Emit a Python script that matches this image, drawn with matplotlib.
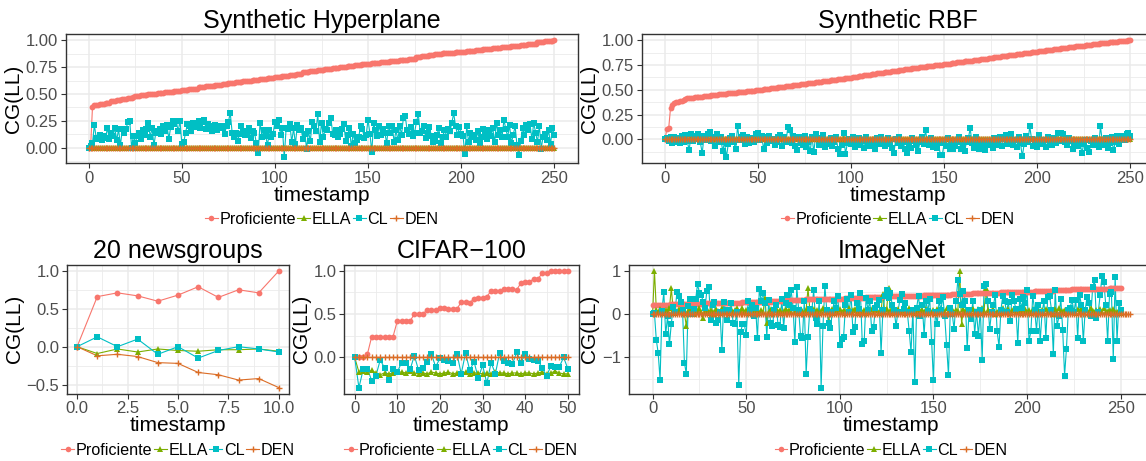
"""
Continual-learning gain CG(LL) per timestamp for five benchmarks (ggplot-like look).

Output:
    out.png
"""

import matplotlib

matplotlib.use("Agg")
import matplotlib.pyplot as plt
import numpy as np
from matplotlib.lines import Line2D
from matplotlib.ticker import AutoMinorLocator, FixedLocator, FuncFormatter

plt.rcParams["font.family"] = ["Liberation Sans", "DejaVu Sans"]

FIG_W, FIG_H = 1146, 461

METHODS = ["Proficiente", "ELLA", "CL", "DEN"]
COLORS = {"Proficiente": "#F8766D", "ELLA": "#7CAE00", "CL": "#00BFC4", "DEN": "#DB6D26"}
MARKERS = {"Proficiente": "o", "ELLA": "^", "CL": "s", "DEN": "+"}

# ---------------- Synthetic Hyperplane (t = 0..250) ----------------
HYPER_PROF = [
    0.00, 0.01, 0.38, 0.40, 0.40, 0.40, 0.41, 0.41, 0.41, 0.42, 0.42, 0.42, 0.43, 0.43, 0.43, 0.44, 0.44, 0.44, 0.45, 0.45, 0.45, 0.46, 0.46, 0.46, 0.47,
    0.48, 0.48, 0.48, 0.49, 0.49, 0.49, 0.49, 0.50, 0.50, 0.50, 0.50, 0.50, 0.51, 0.51, 0.51, 0.51, 0.52, 0.52, 0.52, 0.52, 0.52, 0.53, 0.53, 0.53, 0.53,
    0.54, 0.54, 0.54, 0.54, 0.55, 0.55, 0.55, 0.55, 0.55, 0.56, 0.56, 0.56, 0.56, 0.57, 0.57, 0.57, 0.57, 0.57, 0.58, 0.58, 0.58, 0.58, 0.59, 0.59, 0.59,
    0.60, 0.60, 0.60, 0.60, 0.61, 0.61, 0.61, 0.61, 0.62, 0.62, 0.62, 0.62, 0.62, 0.63, 0.63, 0.63, 0.63, 0.64, 0.64, 0.64, 0.64, 0.65, 0.65, 0.65, 0.65,
    0.66, 0.66, 0.66, 0.66, 0.67, 0.67, 0.67, 0.67, 0.68, 0.68, 0.68, 0.68, 0.69, 0.69, 0.69, 0.70, 0.70, 0.70, 0.70, 0.71, 0.71, 0.71, 0.71, 0.72, 0.72,
    0.72, 0.72, 0.73, 0.73, 0.73, 0.73, 0.74, 0.74, 0.74, 0.74, 0.75, 0.75, 0.75, 0.75, 0.76, 0.76, 0.76, 0.76, 0.77, 0.77, 0.77, 0.77, 0.78, 0.78, 0.78,
    0.78, 0.78, 0.79, 0.79, 0.79, 0.79, 0.79, 0.80, 0.80, 0.80, 0.80, 0.80, 0.81, 0.81, 0.81, 0.81, 0.81, 0.82, 0.82, 0.82, 0.82, 0.82, 0.83, 0.83, 0.83,
    0.83, 0.84, 0.84, 0.84, 0.85, 0.85, 0.85, 0.85, 0.86, 0.86, 0.86, 0.87, 0.87, 0.87, 0.87, 0.88, 0.88, 0.88, 0.88, 0.88, 0.88, 0.88, 0.89, 0.89, 0.89,
    0.89, 0.89, 0.89, 0.90, 0.90, 0.90, 0.90, 0.90, 0.91, 0.91, 0.91, 0.91, 0.92, 0.92, 0.92, 0.92, 0.92, 0.93, 0.93, 0.93, 0.93, 0.93, 0.94, 0.94, 0.94,
    0.94, 0.94, 0.95, 0.95, 0.95, 0.95, 0.95, 0.96, 0.96, 0.96, 0.96, 0.97, 0.97, 0.97, 0.97, 0.97, 0.98, 0.98, 0.98, 0.98, 0.99, 0.99, 0.99, 0.99, 0.99,
    1.00,
]
HYPER_CL = [
    0.00, 0.01, 0.04, 0.21, 0.09, 0.08, 0.12, 0.07, 0.11, 0.09, 0.18, 0.08, 0.14, 0.11, 0.18, 0.07, 0.17, 0.02, 0.17, 0.14, 0.17, 0.24, 0.25, 0.00, 0.11,
    0.04, 0.11, 0.14, 0.08, 0.16, 0.12, 0.17, 0.23, 0.10, 0.18, 0.02, 0.14, 0.15, 0.17, 0.13, 0.20, 0.15, 0.21, 0.08, 0.19, 0.25, 0.22, 0.25, 0.15, 0.25,
    0.03, 0.05, 0.14, 0.22, 0.20, 0.15, 0.23, 0.19, 0.20, 0.25, 0.18, 0.24, 0.26, 0.17, 0.22, 0.20, 0.15, 0.20, 0.21, 0.16, 0.20, 0.20, 0.18, 0.13, 0.20,
    0.24, 0.32, 0.14, 0.10, 0.14, 0.06, 0.13, 0.20, 0.15, 0.12, 0.13, 0.18, 0.09, 0.15, 0.14, 0.04, -0.05, 0.23, 0.10, 0.16, 0.11, 0.02, 0.16, 0.10, 0.13,
    0.24, 0.20, 0.26, 0.12, 0.18, -0.09, 0.18, 0.17, 0.22, 0.05, 0.18, 0.03, 0.21, 0.16, 0.18, 0.08, 0.13, -0.01, 0.15, 0.06, 0.24, 0.20, 0.15, 0.31, 0.05,
    0.23, 0.10, 0.17, 0.16, 0.23, 0.28, 0.13, 0.12, 0.16, 0.10, 0.13, 0.17, 0.22, 0.06, 0.12, 0.18, 0.01, 0.13, 0.04, 0.07, 0.10, 0.20, 0.17, 0.09, 0.12,
    0.26, 0.13, -0.04, 0.23, 0.16, 0.11, 0.20, 0.12, 0.17, 0.14, 0.04, 0.20, 0.14, 0.20, 0.05, 0.16, 0.07, 0.20, 0.12, 0.28, 0.29, 0.16, 0.13, 0.19, 0.11,
    0.14, 0.24, 0.31, 0.14, 0.15, 0.20, 0.09, 0.14, 0.19, 0.11, 0.05, 0.06, 0.12, 0.18, 0.04, 0.10, 0.16, 0.10, 0.17, 0.15, 0.23, 0.32, 0.20, 0.12, 0.19,
    0.13, 0.11, -0.06, 0.20, 0.05, 0.14, 0.10, 0.12, 0.07, 0.15, 0.04, 0.10, 0.17, 0.14, 0.08, 0.16, 0.11, 0.18, 0.05, 0.23, 0.12, 0.16, 0.10, 0.26, 0.17,
    0.10, 0.21, 0.04, 0.12, 0.20, 0.02, -0.07, 0.06, 0.18, 0.12, 0.21, 0.16, 0.22, 0.08, 0.23, 0.14, 0.05, 0.20, -0.01, 0.10, 0.13, 0.07, 0.16, 0.03, 0.18,
    0.12,
]
HYPER_ELLA = [0.0] * 251
HYPER_DEN = [0.0] * 251

# ---------------- Synthetic RBF (t = 0..250) ----------------
RBF_PROF = [
    0.00, 0.10, 0.11, 0.32, 0.35, 0.37, 0.38, 0.38, 0.39, 0.39, 0.40, 0.41, 0.42, 0.42, 0.42, 0.42, 0.43, 0.43, 0.43, 0.43, 0.43, 0.44, 0.44, 0.44, 0.44,
    0.45, 0.45, 0.45, 0.45, 0.46, 0.46, 0.46, 0.46, 0.46, 0.47, 0.47, 0.47, 0.47, 0.47, 0.48, 0.48, 0.48, 0.48, 0.48, 0.49, 0.49, 0.49, 0.49, 0.49, 0.50,
    0.50, 0.50, 0.50, 0.51, 0.51, 0.51, 0.51, 0.52, 0.52, 0.52, 0.52, 0.53, 0.53, 0.53, 0.53, 0.54, 0.54, 0.54, 0.54, 0.55, 0.55, 0.55, 0.55, 0.56, 0.56,
    0.56, 0.56, 0.57, 0.57, 0.57, 0.57, 0.58, 0.58, 0.58, 0.58, 0.59, 0.59, 0.59, 0.59, 0.60, 0.60, 0.60, 0.60, 0.61, 0.61, 0.61, 0.61, 0.62, 0.62, 0.62,
    0.62, 0.63, 0.63, 0.63, 0.64, 0.64, 0.64, 0.65, 0.65, 0.65, 0.65, 0.66, 0.66, 0.66, 0.67, 0.67, 0.67, 0.67, 0.68, 0.68, 0.68, 0.68, 0.69, 0.69, 0.69,
    0.69, 0.70, 0.70, 0.70, 0.71, 0.71, 0.71, 0.71, 0.72, 0.72, 0.72, 0.72, 0.73, 0.73, 0.73, 0.73, 0.74, 0.74, 0.74, 0.74, 0.75, 0.75, 0.75, 0.75, 0.75,
    0.76, 0.76, 0.76, 0.76, 0.77, 0.77, 0.77, 0.78, 0.78, 0.78, 0.78, 0.79, 0.79, 0.79, 0.79, 0.79, 0.80, 0.80, 0.80, 0.80, 0.81, 0.81, 0.81, 0.81, 0.82,
    0.82, 0.82, 0.83, 0.83, 0.83, 0.83, 0.84, 0.84, 0.84, 0.84, 0.85, 0.85, 0.85, 0.85, 0.86, 0.86, 0.86, 0.86, 0.87, 0.87, 0.87, 0.87, 0.88, 0.88, 0.88,
    0.88, 0.89, 0.89, 0.89, 0.89, 0.90, 0.90, 0.90, 0.90, 0.91, 0.91, 0.91, 0.91, 0.92, 0.92, 0.92, 0.92, 0.93, 0.93, 0.93, 0.93, 0.94, 0.94, 0.94, 0.94,
    0.94, 0.95, 0.95, 0.95, 0.95, 0.96, 0.96, 0.96, 0.96, 0.97, 0.97, 0.97, 0.97, 0.97, 0.98, 0.98, 0.98, 0.98, 0.98, 0.99, 0.99, 0.99, 0.99, 0.99, 1.00,
    1.00,
]
RBF_CL = [
    0.00, 0.01, -0.02, 0.02, -0.04, 0.02, -0.03, 0.01, -0.04, 0.03, -0.03, 0.04, -0.02, -0.11, 0.05, -0.02, 0.03, 0.00, 0.05, -0.03, -0.14, 0.03, -0.01, 0.05, 0.07,
    -0.02, 0.02, -0.07, 0.05, -0.03, 0.02, -0.12, -0.03, -0.18, -0.05, 0.01, 0.03, -0.03, -0.10, 0.13, -0.01, 0.02, 0.04, -0.05, 0.02, -0.04, 0.01, 0.00, -0.03, 0.05,
    0.06, -0.01, 0.03, -0.10, 0.02, -0.04, 0.03, -0.02, 0.00, -0.06, -0.03, 0.02, 0.04, -0.07, 0.02, -0.03, 0.12, 0.09, -0.04, 0.03, -0.07, -0.11, 0.02, -0.04, -0.06,
    0.03, -0.08, -0.03, -0.12, 0.02, -0.13, 0.05, 0.01, -0.06, -0.03, 0.04, -0.08, -0.02, -0.05, 0.01, -0.07, -0.03, 0.02, -0.10, -0.15, -0.06, 0.06, -0.15, -0.04, 0.00,
    -0.05, 0.02, -0.08, -0.03, 0.01, -0.06, -0.02, -0.09, 0.02, -0.04, -0.07, -0.02, -0.04, -0.10, 0.01, -0.05, 0.02, -0.03, -0.07, -0.02, 0.01, -0.05, -0.09, -0.14, 0.00,
    -0.04, 0.02, -0.07, -0.03, -0.10, -0.14, -0.04, -0.09, 0.01, -0.02, -0.06, -0.12, -0.03, 0.02, -0.05, 0.09, -0.03, -0.06, 0.01, -0.08, -0.04, -0.09, -0.04, -0.16, -0.16,
    -0.04, -0.07, 0.01, -0.10, -0.05, -0.10, -0.07, -0.03, 0.02, -0.10, -0.06, -0.12, -0.03, 0.01, 0.11, -0.04, -0.09, 0.02, -0.05, -0.10, -0.08, -0.03, -0.11, -0.06, -0.02,
    -0.05, -0.09, 0.01, -0.06, -0.03, 0.02, -0.07, 0.00, 0.04, -0.05, -0.02, 0.05, -0.06, -0.01, -0.08, 0.02, -0.04, -0.17, -0.05, 0.03, -0.03, 0.13, 0.00, -0.07, -0.03,
    -0.08, 0.04, -0.02, -0.05, -0.01, -0.08, 0.02, -0.03, -0.06, 0.01, -0.04, 0.06, -0.02, 0.06, 0.05, -0.03, -0.06, 0.01, -0.02, -0.10, -0.04, -0.02, -0.07, -0.02, -0.14,
    -0.05, -0.01, -0.09, -0.13, -0.02, -0.06, 0.01, -0.03, -0.08, 0.13, -0.02, -0.06, 0.01, -0.09, -0.04, 0.02, -0.11, -0.03, 0.03, -0.05, 0.02, 0.03, -0.01, 0.05, 0.06,
    0.03,
]
RBF_ELLA = [0.0] * 251
RBF_DEN = [0.0] * 251

# ---------------- 20 newsgroups (t = 0..10) ----------------
NEWS_PROF = [0.00, 0.66, 0.71, 0.67, 0.60, 0.68, 0.79, 0.65, 0.75, 0.71, 1.00]
NEWS_ELLA = [0.00, -0.09, -0.03, -0.07, -0.03, -0.05, -0.06, -0.04, -0.04, -0.03, -0.06]
NEWS_CL = [0.00, 0.13, 0.00, 0.10, -0.10, 0.00, -0.15, -0.05, 0.00, -0.03, -0.07]
NEWS_DEN = [0.00, -0.12, -0.10, -0.13, -0.21, -0.22, -0.34, -0.37, -0.44, -0.42, -0.54]

# ---------------- CIFAR-100 (t = 0..50) ----------------
CIFAR_PROF = [
    0.00, 0.01, 0.01, 0.04, 0.24, 0.24, 0.24, 0.24, 0.24, 0.24, 0.42, 0.42, 0.42, 0.42, 0.50, 0.50, 0.50,
    0.55, 0.55, 0.55, 0.57, 0.57, 0.56, 0.56, 0.56, 0.64, 0.64, 0.63, 0.68, 0.69, 0.69, 0.70, 0.77, 0.77,
    0.77, 0.79, 0.79, 0.79, 0.78, 0.86, 0.87, 0.87, 0.91, 0.91, 0.97, 0.97, 1.00, 1.00, 1.00, 1.00, 1.00,
]
CIFAR_ELLA = [
    0.00, -0.17, -0.16, -0.17, -0.15, -0.18, -0.20, -0.18, -0.19, -0.18, -0.17, -0.17, -0.18, -0.16, -0.18, -0.19, -0.18,
    -0.19, -0.17, -0.18, -0.19, -0.18, -0.17, -0.19, -0.18, -0.18, -0.17, -0.19, -0.18, -0.18, -0.19, -0.18, -0.19, -0.17,
    -0.18, -0.18, -0.19, -0.18, -0.18, -0.19, -0.18, -0.18, -0.19, -0.18, -0.17, -0.19, -0.18, -0.16, -0.18, -0.19, -0.19,
]
CIFAR_CL = [
    0.00, -0.35, -0.14, -0.13, -0.27, -0.21, -0.03, -0.12, -0.26, -0.14, -0.17, -0.06, -0.06, -0.14, 0.02, -0.15, -0.12,
    -0.05, 0.04, -0.11, -0.01, -0.03, -0.04, -0.06, 0.04, -0.19, 0.05, -0.15, -0.05, -0.24, -0.09, -0.30, -0.06, -0.19,
    0.05, -0.04, -0.07, -0.08, 0.06, -0.06, 0.04, -0.02, -0.03, -0.04, -0.12, -0.22, -0.10, -0.11, -0.11, 0.00, -0.13,
]
CIFAR_DEN = [0.0] * 51

# ---------------- ImageNet (t = 0..250, DEN runs a little longer) ----------------
IMNET_PROF = [
    0.21, 0.21, 0.22, 0.22, 0.22, 0.22, 0.22, 0.22, 0.22, 0.22, 0.23, 0.23, 0.23, 0.23, 0.23, 0.23, 0.23, 0.23, 0.23, 0.24, 0.24, 0.24, 0.24, 0.24, 0.24,
    0.24, 0.24, 0.24, 0.25, 0.25, 0.25, 0.25, 0.25, 0.25, 0.25, 0.25, 0.25, 0.26, 0.26, 0.26, 0.26, 0.26, 0.26, 0.26, 0.26, 0.26, 0.26, 0.26, 0.27, 0.27,
    0.27, 0.27, 0.27, 0.27, 0.27, 0.27, 0.27, 0.27, 0.28, 0.28, 0.28, 0.28, 0.28, 0.29, 0.30, 0.30, 0.30, 0.31, 0.31, 0.31, 0.31, 0.32, 0.32, 0.32, 0.32,
    0.32, 0.33, 0.33, 0.33, 0.33, 0.33, 0.33, 0.34, 0.34, 0.34, 0.34, 0.34, 0.34, 0.34, 0.35, 0.35, 0.35, 0.35, 0.35, 0.35, 0.35, 0.35, 0.36, 0.36, 0.36,
    0.36, 0.36, 0.36, 0.37, 0.37, 0.37, 0.37, 0.37, 0.37, 0.38, 0.38, 0.38, 0.38, 0.38, 0.39, 0.39, 0.39, 0.39, 0.40, 0.40, 0.40, 0.40, 0.40, 0.41, 0.41,
    0.41, 0.41, 0.41, 0.41, 0.41, 0.42, 0.42, 0.42, 0.42, 0.42, 0.42, 0.42, 0.43, 0.43, 0.43, 0.43, 0.43, 0.43, 0.43, 0.43, 0.44, 0.44, 0.44, 0.44, 0.44,
    0.44, 0.44, 0.44, 0.45, 0.45, 0.45, 0.45, 0.45, 0.45, 0.45, 0.46, 0.46, 0.46, 0.47, 0.47, 0.47, 0.47, 0.47, 0.47, 0.47, 0.47, 0.48, 0.48, 0.48, 0.48,
    0.48, 0.48, 0.48, 0.48, 0.48, 0.49, 0.49, 0.49, 0.49, 0.49, 0.49, 0.50, 0.50, 0.50, 0.50, 0.50, 0.51, 0.51, 0.51, 0.51, 0.51, 0.51, 0.52, 0.52, 0.52,
    0.52, 0.52, 0.52, 0.52, 0.53, 0.53, 0.53, 0.53, 0.53, 0.53, 0.54, 0.54, 0.54, 0.54, 0.54, 0.55, 0.55, 0.55, 0.55, 0.56, 0.56, 0.56, 0.56, 0.56, 0.57,
    0.57, 0.57, 0.57, 0.57, 0.57, 0.58, 0.58, 0.58, 0.58, 0.58, 0.58, 0.58, 0.59, 0.59, 0.59, 0.59, 0.59, 0.59, 0.59, 0.60, 0.60, 0.60, 0.60, 0.60, 0.60,
    0.60,
]
IMNET_ELLA = [
    0.00, 1.00, 0.10, 0.05, 0.12, 0.08, 0.02, 0.10, 0.05, 0.13, 0.60, 0.10, 0.03, 0.08, 0.12, 0.05, 0.10, 0.02, -0.27, 0.08, 0.12, 0.05, 0.00, 0.10, 0.07,
    0.13, 0.04, -0.10, 0.08, 0.12, 0.02, 0.10, 0.06, 0.00, 0.12, 0.08, 0.03, 0.14, 0.05, 0.10, 0.07, 0.02, 0.12, 0.06, 0.10, 0.15, 0.04, 0.08, 0.13, 0.05,
    0.10, 0.02, 0.12, 0.07, 0.04, 0.15, 0.08, 0.02, 0.10, 0.05, 0.38, -0.20, 0.06, 0.12, 0.03, 0.09, 0.14, 0.05, 0.10, 0.02, 0.08, 0.12, 0.04, 0.10, 0.06,
    0.15, 0.05, 0.10, 0.03, 0.12, 0.07, 0.02, 0.10, 0.60, 0.08, 0.04, 0.12, 0.06, 0.10, 0.02, 0.08, 0.13, 0.10, 0.05, -0.15, 0.08, 0.11, 0.03, 0.09, 0.05,
    0.12, 0.06, 0.10, 0.02, 0.08, 0.13, 0.04, 0.09, 0.11, 0.03, 0.07, 0.12, 0.05, 0.10, 0.02, 0.08, 0.06, 0.12, 0.04, 0.09, 0.10, 0.03, 0.08, 0.47, 0.05,
    0.12, 0.60, 0.07, 0.02, 0.10, 0.05, 0.12, 0.04, 0.09, 0.11, 0.03, 0.08, 0.13, 0.05, 0.10, 0.02, 0.07, 0.12, 0.04, 0.09, 0.06, 0.11, 0.03, 0.08, 0.05,
    0.10, 0.02, 0.12, 0.07, 0.04, 0.10, 0.06, 0.13, 0.03, 0.08, 0.11, 0.05, 0.09, 0.07, 1.00, -0.22, 0.12, 0.04, 0.10, 0.06, 0.02, 0.11, 0.08, 0.05, 0.12,
    0.03, 0.15, 0.07, 0.60, 0.10, 0.04, 0.08, 0.12, 0.00, 0.06, 0.10, 0.03, 0.13, 0.07, 0.05, 0.11, 0.02, 0.09, 0.12, 0.04, 0.08, 0.10, 0.03, 0.07, 0.12,
    0.05, 0.09, 0.02, 0.11, 0.06, 0.13, 0.04, 0.08, 0.10, 0.03, 0.12, 0.07, 0.05, 0.09, 0.01, 0.11, 0.06, 0.14, 0.04, 0.08, 0.10, 0.02, 0.12, 0.07, 0.05,
    0.08, 0.03, 0.11, 0.06, 0.12, 0.04, 0.09, 0.10, 0.02, 0.13, 0.07, 0.05, 0.10, 0.03, 0.11, 0.06, 0.14, 0.04, 0.08, 0.09, 0.02, 0.12, 0.06, 0.05, 0.10,
    0.03,
]
IMNET_CL = [
    0.00, 0.02, -0.60, -0.90, -1.52, 0.08, 0.51, -0.47, -0.05, -0.70, -0.22, 0.17, 0.05, 0.51, 0.43, 0.28, 0.10, -1.12, -1.38, 0.19, 0.35, 0.00, 0.12, 0.34, 0.69,
    0.49, 0.44, 0.29, 0.15, 0.54, 0.63, -0.13, 0.20, 0.29, -0.20, -0.13, 0.05, -0.84, 0.29, 0.10, -0.14, 0.10, 0.25, -0.20, -0.24, 0.05, -1.63, -0.42, -0.24, -0.24,
    -0.49, 0.31, 0.10, 0.22, -0.05, 0.15, -0.56, 0.58, 0.30, 0.49, 0.25, -0.52, 0.32, -0.20, -0.28, 0.10, 0.22, -0.25, -0.30, 0.35, -0.31, 0.25, 0.45, 0.20, 0.55,
    0.15, -0.65, 0.62, 0.10, -0.50, -0.56, 0.30, -1.38, -0.52, 0.12, 0.05, 0.55, -0.10, -0.22, 0.30, -1.70, -0.27, 0.65, 0.10, -0.20, -0.32, 0.05, 0.30, 0.15, 0.42,
    -0.72, -0.57, -0.52, 0.20, 0.35, 0.05, 0.45, -0.42, -0.30, 0.25, 0.12, 0.48, -0.70, -0.63, 0.38, 0.10, 0.30, -0.38, -0.30, 0.15, 0.22, 0.32, -0.90, 0.10, 0.42,
    0.55, 0.38, 0.48, 0.20, 0.10, -0.28, 0.05, 0.32, 0.46, 0.12, 0.25, 0.05, -0.38, -0.88, 0.10, -1.56, 0.15, 0.43, -0.05, 0.22, -0.48, 0.30, 0.08, 0.35, -0.65,
    -1.53, 0.05, -0.22, 0.30, 0.10, 0.40, -0.05, -0.72, -1.40, 0.15, 0.00, -0.35, 0.30, 0.78, 0.46, 0.20, 0.54, 0.30, -0.78, 0.10, -0.12, 0.30, -0.45, 0.05, -0.50,
    0.10, -1.05, 0.65, 0.70, 0.30, -0.35, 0.05, 0.20, 0.45, -0.40, -0.75, 0.10, 0.42, 0.30, 0.05, 0.28, -0.15, 0.45, 0.30, 0.12, -0.66, 0.35, 0.15, 0.40, 0.25,
    0.55, -0.62, -0.40, 0.42, 0.10, -0.38, 0.22, -0.62, 0.05, 0.30, -0.55, 0.40, 0.42, 0.10, -0.93, 0.56, -0.27, -0.05, 0.35, -0.37, -1.42, -0.80, 0.10, 0.15, 0.32,
    0.05, 0.32, -0.55, 0.45, 0.20, -0.63, 0.10, 0.40, 0.25, -0.05, 0.62, 0.78, -0.10, 0.05, 0.45, 0.88, 0.74, 0.20, -0.62, 0.46, 0.52, -1.03, 0.85, -0.62, 0.26,
    0.10,
]
IMNET_DEN = [0.0] * 256

# panel box edges in output pixels: left, top, right, bottom
PANELS = [
    ("Synthetic Hyperplane", (65.5, 34.5, 577.5, 163),
     {"Proficiente": HYPER_PROF, "ELLA": HYPER_ELLA, "CL": HYPER_CL, "DEN": HYPER_DEN},
     [0, 50, 100, 150, 200, 250], [0.0, 0.25, 0.5, 0.75, 1.0], 0, 2),
    ("Synthetic RBF", (641.7, 34.5, 1153.5, 163),
     {"Proficiente": RBF_PROF, "ELLA": RBF_ELLA, "CL": RBF_CL, "DEN": RBF_DEN},
     [0, 50, 100, 150, 200, 250], [0.0, 0.25, 0.5, 0.75, 1.0], 0, 2),
    ("20 newsgroups", (67, 265, 289, 393.5),
     {"Proficiente": NEWS_PROF, "ELLA": NEWS_ELLA, "CL": NEWS_CL, "DEN": NEWS_DEN},
     [0, 2.5, 5, 7.5, 10], [-0.5, 0.0, 0.5, 1.0], 1, 1),
    ("CIFAR\u2212100", (344, 265, 578.5, 393.5),
     {"Proficiente": CIFAR_PROF, "ELLA": CIFAR_ELLA, "CL": CIFAR_CL, "DEN": CIFAR_DEN},
     [0, 10, 20, 30, 40, 50], [0.0, 0.5, 1.0], 0, 1),
    ("ImageNet", (628.7, 265, 1154, 393.5),
     {"Proficiente": IMNET_PROF, "ELLA": IMNET_ELLA, "CL": IMNET_CL, "DEN": IMNET_DEN},
     [0, 50, 100, 150, 200, 250], [-1, 0, 1], 0, 0),
]


def decimal_formatter(decimals: int) -> FuncFormatter:
    return FuncFormatter(lambda v, pos: f"{v:.{decimals}f}".replace("-", "\u2212"))


def expanded(lo: float, hi: float, frac: float = 0.05) -> tuple:
    span = hi - lo
    return lo - frac * span, hi + frac * span


def add_panel(fig, box):
    left, top, right, bottom = box
    return fig.add_axes([left / FIG_W, 1 - bottom / FIG_H, (right - left) / FIG_W, (bottom - top) / FIG_H])


def style_axes(ax) -> None:
    for spine in ax.spines.values():
        spine.set_color("#333333")
        spine.set_linewidth(1.0)
    ax.xaxis.set_minor_locator(AutoMinorLocator(2))
    ax.yaxis.set_minor_locator(AutoMinorLocator(2))
    ax.grid(True, which="major", color="#EBEBEB", linewidth=1.1)
    ax.grid(True, which="minor", color="#EBEBEB", linewidth=0.6)
    ax.set_axisbelow(True)
    ax.tick_params(which="major", length=3.5, width=0.8, color="#333333",
                   labelcolor="#4D4D4D", labelsize=12, pad=2)
    ax.tick_params(which="minor", length=0)


def draw_panel(ax, title, series, xticks, yticks, xdec, ydec) -> None:
    # lines first, points on top (same order as ggplot layers)
    for name in METHODS:
        values = np.asarray(series[name])
        ax.plot(np.arange(len(values)), values, color=COLORS[name], linewidth=0.8, zorder=2)
    for name in METHODS:
        values = np.asarray(series[name])
        ax.plot(np.arange(len(values)), values, linestyle="none", marker=MARKERS[name],
                markersize=4.2 if name != "DEN" else 4.8, markeredgewidth=1.0 if name == "DEN" else 0,
                color=COLORS[name], zorder=3)

    all_x = [len(v) - 1 for v in series.values()]
    all_y = np.concatenate([np.asarray(v) for v in series.values()])
    ax.set_xlim(*expanded(0, max(all_x)))
    ax.set_ylim(*expanded(all_y.min(), all_y.max()))
    ax.xaxis.set_major_locator(FixedLocator(xticks))
    ax.yaxis.set_major_locator(FixedLocator(yticks))
    ax.xaxis.set_major_formatter(decimal_formatter(xdec))
    ax.yaxis.set_major_formatter(decimal_formatter(ydec))
    style_axes(ax)

    ax.set_title(title, fontsize=18, pad=5)
    ax.set_xlabel("timestamp", fontsize=15, labelpad=0)
    ax.set_ylabel("CG(LL)", fontsize=15, labelpad=2)

    handles = [
        Line2D([], [], color=COLORS[name], marker=MARKERS[name], linewidth=0.8,
               markersize=4.0 if name != "DEN" else 4.8, markeredgewidth=1.0 if name == "DEN" else 0)
        for name in METHODS
    ]
    ax.legend(handles, METHODS, loc="center", bbox_to_anchor=(0.5, -0.44), ncol=4, frameon=False,
              fontsize=11.6, handlelength=0.8, handletextpad=0.1, columnspacing=0.1, borderaxespad=0)


def main() -> None:
    fig = plt.figure(figsize=(FIG_W / 100, FIG_H / 100), dpi=100)
    for title, box, series, xticks, yticks, xdec, ydec in PANELS:
        ax = add_panel(fig, box)
        draw_panel(ax, title, series, xticks, yticks, xdec, ydec)
    fig.savefig("out.png", dpi=100)
    plt.close(fig)


if __name__ == "__main__":
    main()
